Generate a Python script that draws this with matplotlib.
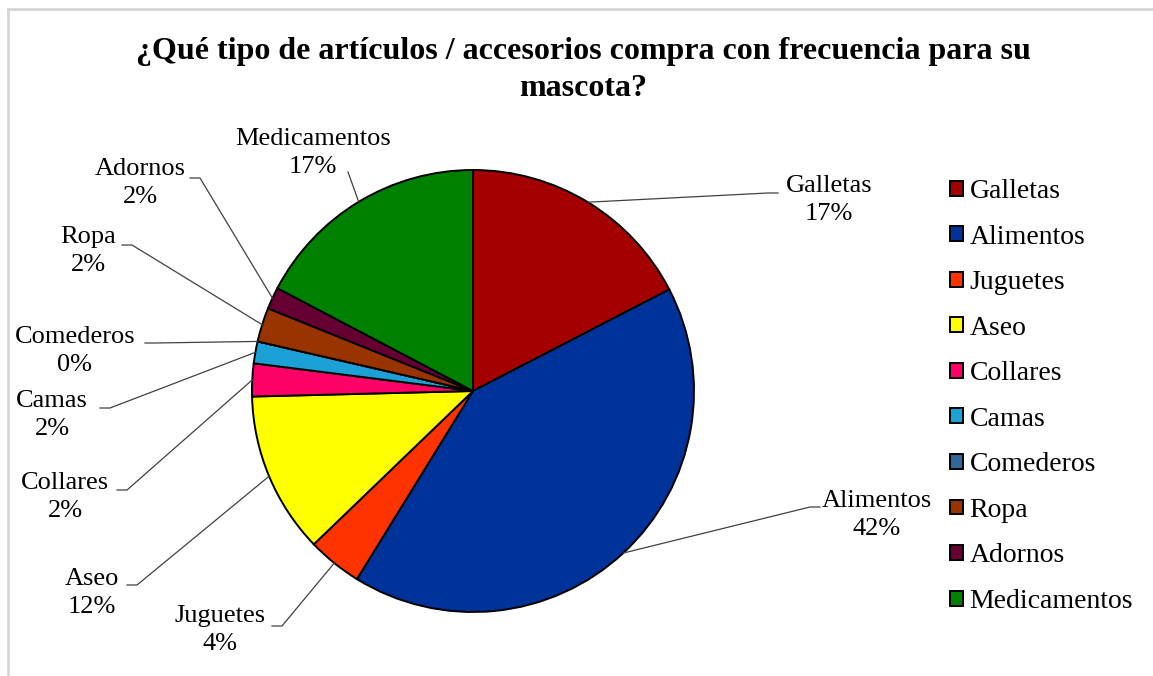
import matplotlib

matplotlib.use("Agg")
import matplotlib.pyplot as plt
import numpy as np

# data (share of answers, %)
categories = ["Galletas", "Alimentos", "Juguetes", "Aseo", "Collares",
              "Camas", "Comederos", "Ropa", "Adornos", "Medicamentos"]
shares = [17.4, 41.4, 4.0, 11.8, 2.4, 1.6, 0.0, 2.5, 1.6, 17.3]
pct_labels = ["17%", "42%", "4%", "12%", "2%", "2%", "0%", "2%", "2%", "17%"]
colors = ["#a50000", "#003399", "#ff3300", "#ffff00", "#ff0066",
          "#1ba1d6", "#336699", "#993300", "#660033", "#008000"]

W, H = 1153, 676
CX, CY, R = 473, 391, 221  # pie centre / radius in pixels (y down)

# label block centre, and where the leader tick touches the text (pixels, y down)
label_pos = {
    "Galletas": ((829, 200), (778, 193)),
    "Alimentos": ((877, 515), (820, 507)),
    "Juguetes": ((220, 630), (272, 626)),
    "Aseo": ((92, 593), (127, 585)),
    "Collares": ((65, 497), (117, 490)),
    "Camas": ((52, 415), (100, 408)),
    "Comederos": ((75, 351), (145, 343)),
    "Ropa": ((88, 251), (122, 245)),
    "Adornos": ((140, 183), (190, 178)),
    "Medicamentos": ((313, 153), (348, 172)),
}


def Y(py):
    return H - py


plt.rcParams["font.family"] = ["Liberation Serif", "DejaVu Serif"]
fig = plt.figure(figsize=(W / 100, H / 100), dpi=100)
ax = fig.add_axes([0, 0, 1, 1])

wedges, _ = ax.pie(shares, colors=colors, startangle=90, counterclock=False,
                   center=(CX, Y(CY)), radius=R,
                   wedgeprops={"edgecolor": "black", "linewidth": 1.4})
ax.set_xlim(0, W)
ax.set_ylim(0, H)
ax.set_aspect("equal")
ax.axis("off")

for w, name, pct in zip(wedges, categories, pct_labels):
    (tx, ty), (axp, ayp) = label_pos[name]
    mid = np.deg2rad((w.theta1 + w.theta2) / 2)
    ex, ey = CX + R * np.cos(mid), Y(CY) + R * np.sin(mid)
    side = -1 if axp > tx else 1  # tick points away from text
    if name == "Medicamentos":
        xs, ys = [axp, ex], [Y(ayp), ey]
    else:
        xs = [axp, axp - side * 10, ex]
        ys = [Y(ayp), Y(ayp), ey]
    ax.plot(xs, ys, color="#404040", lw=0.9, zorder=1)
    ax.text(tx, Y(ty), f"{name}\n{pct}", ha="center", va="center",
            fontsize=19, linespacing=1.3, color="black")

ax.text(583, Y(52), "¿Qué tipo de artículos / accesorios compra con frecuencia para su",
        ha="center", va="center", fontsize=23, fontweight="bold")
ax.text(583, Y(88), "mascota?", ha="center", va="center", fontsize=23, fontweight="bold")

leg = ax.legend(wedges, categories, loc="upper left", bbox_to_anchor=(950 / W, 1 - 179 / H),
                frameon=False, fontsize=20, handlelength=0.45, handleheight=0.45,
                handletextpad=0.25, labelspacing=0.74, borderaxespad=0, borderpad=0)

# light chart-area frame (top and left edges visible)
ax.plot([8, 8], [Y(9), 0], color="#d6d6d6", lw=2)
ax.plot([8, W], [Y(9), Y(9)], color="#d6d6d6", lw=2)

fig.savefig("out.png", dpi=100)
